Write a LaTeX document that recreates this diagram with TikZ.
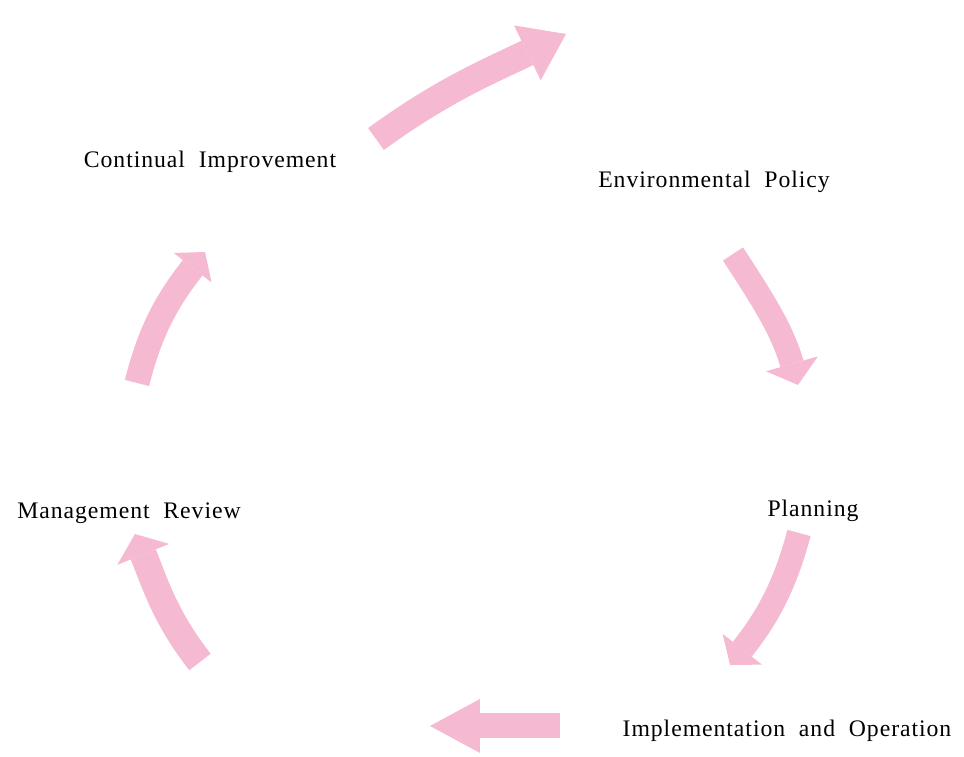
\documentclass[tikz,border=0pt]{standalone}
\usepackage{fontspec}
\setmainfont{Liberation Serif}[LetterSpace=4]
\usepackage{tikz}
\usetikzlibrary{arrows.meta}
\definecolor{cyclepink}{RGB}{245,185,210}

\begin{document}
\begin{tikzpicture}[x=0.02cm,
                    y=0.02cm,
                    lbl/.style={font=\fontsize{13.5}{16}\selectfont, inner sep=0pt},
                    cyc/.style={draw=cyclepink, line width=0.52cm, line cap=butt}
                    ]
  \useasboundingbox (0,0) rectangle (964,757);
  % stage labels
  \node[lbl] (1) at (210,595) {Continual\ \ Improvement};
  \node[lbl] (2) at (714,575) {Environmental\ \ Policy};
  \node[lbl] (3) at (813,246) {Planning};
  \node[lbl] (4) at (787,26)  {Implementation\ \ and\ \ Operation};
  \node[lbl] (5) at (129,244) {Management\ \ Review};
  % arrow ends
  \coordinate (t1) at (376,618); \coordinate (h1) at (566,723);
  \coordinate (t2) at (733,503); \coordinate (h2) at (798,372);
  \coordinate (t3) at (799,224); \coordinate (h3) at (730,92);
  \coordinate (t4) at (560,31);  \coordinate (h4) at (430,31);
  \coordinate (t5) at (200,95);  \coordinate (h5) at (135,223);
  \coordinate (t6) at (137,374); \coordinate (h6) at (205,505);
  \draw[cyc, line width=0.54cm, -{Triangle[width=1.22cm,length=0.86cm,line width=0pt]}] (t1) to[out=36,in=206] (h1);
  \draw[cyc, line width=0.48cm, -{Triangle[width=1.08cm,length=0.44cm,line width=0pt]}] (t2) to[out=-57,in=106] (h2);
  \draw[cyc, line width=0.48cm, -{Triangle[width=1.0cm,length=0.4cm,line width=0pt]}] (t3) to[out=-105,in=52] (h3);
  \draw[cyc, line width=0.5cm, -{Triangle[width=1.08cm,length=1.0cm,line width=0pt]}] (t4) -- (h4);
  \draw[cyc, line width=0.54cm, -{Triangle[width=1.12cm,length=0.44cm,line width=0pt]}] (t5) to[out=128,in=-68] (h5);
  \draw[cyc, line width=0.5cm, -{Triangle[width=0.96cm,length=0.4cm,line width=0pt]}] (t6) to[out=76,in=232] (h6);
\end{tikzpicture}
\end{document}
